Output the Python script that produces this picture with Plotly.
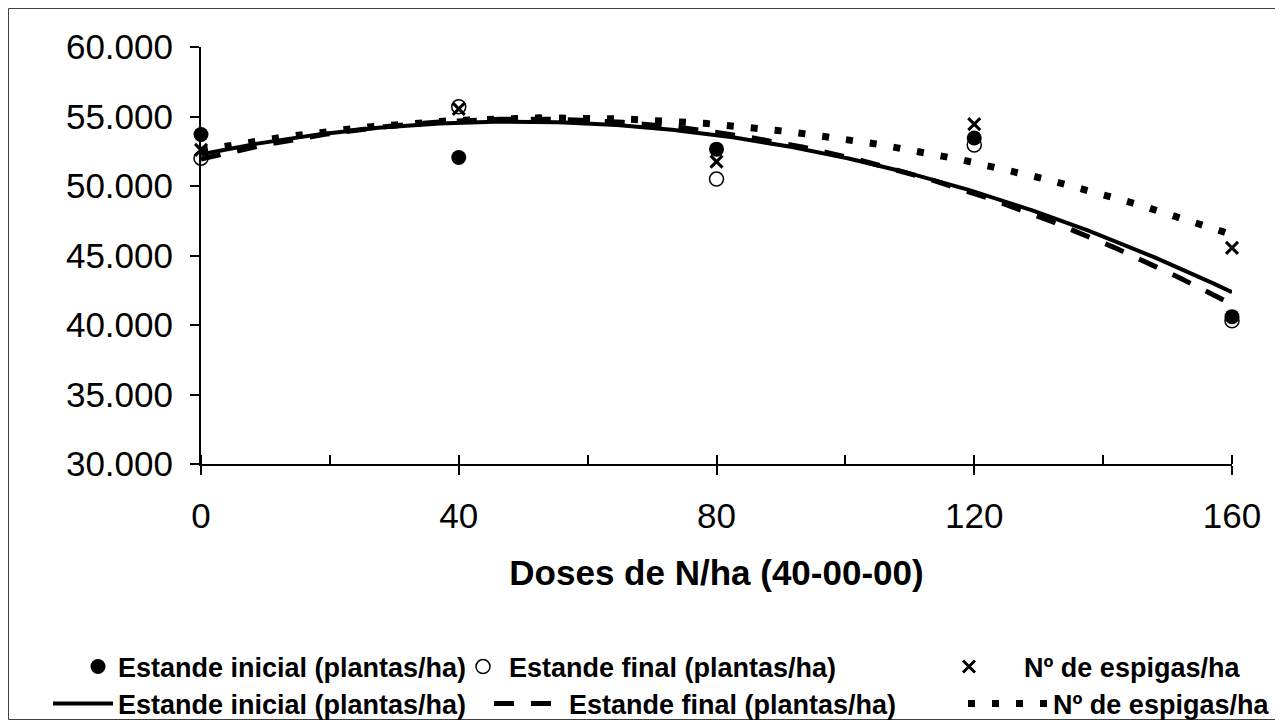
import numpy as np
import plotly.graph_objects as go

# ---- data ----
doses = [0, 40, 80, 120, 160]
estande_inicial = [53700, 52050, 52650, 53450, 40600]
estande_final = [52000, 55700, 50500, 52950, 40300]
espigas = [52600, 55550, 51750, 54450, 45550]
series_names = ["Estande inicial (plantas/ha)", "Estande final (plantas/ha)", "Nº de espigas/ha"]
x_ticks = [0, 40, 80, 120, 160]
y_ticks = [30000, 35000, 40000, 45000, 50000, 55000, 60000]
x_title = "Doses de N/ha (40-00-00)"

OFF = 8  # page body margin
W, H = 1283 - OFF, 726 - OFF
L, R, T, B = 201 - OFF, 1232 - OFF, 47 - OFF, 464 - OFF  # plot area in figure pixels
pw, ph = R - L, B - T


def px(xs):  # screen x -> paper
    return (xs - OFF - L) / pw


def py(ys):  # screen y -> paper
    return (B - (ys - OFF)) / ph


# polynomial (order 2) trendlines, as in the original spreadsheet chart
xfit = np.linspace(0, 160, 321)


def trend(vals):
    c = np.polyfit(doses, vals, 2)
    return np.polyval(c, xfit)


LEG_FONT = dict(family="Liberation Sans, Arial, sans-serif", size=27, color="black")
fig = go.Figure()

# trendlines
fig.add_trace(go.Scatter(x=xfit, y=trend(estande_inicial), mode="lines", name="<b>" + series_names[0] + "</b>",
                         line=dict(color="black", width=4), legend="legend4", cliponaxis=False))
fig.add_trace(go.Scatter(x=xfit, y=trend(estande_final), mode="lines", name="<b>" + series_names[1] + "</b>",
                         line=dict(color="black", width=5, dash="20px,17px"), legend="legend5", cliponaxis=False))
fig.add_trace(go.Scatter(x=xfit, y=trend(espigas), mode="lines", name="<b>" + series_names[2] + "</b>",
                         line=dict(color="black", width=7, dash="7px,17px"), legend="legend6", cliponaxis=False))

# observed points
fig.add_trace(go.Scatter(x=doses, y=estande_inicial, mode="markers", name="<b>" + series_names[0] + "</b>",
                         marker=dict(symbol="circle", size=15, color="black"), legend="legend", cliponaxis=False))
fig.add_trace(go.Scatter(x=doses, y=estande_final, mode="markers", name="<b>" + series_names[1] + "</b>",
                         marker=dict(symbol="circle-open", size=14, color="black", line=dict(width=1.5)),
                         legend="legend2", cliponaxis=False))
fig.add_trace(go.Scatter(x=doses, y=espigas, mode="markers", name="<b>" + series_names[2] + "</b>",
                         marker=dict(symbol="x-thin-open", size=12, color="black", line=dict(width=3, color="black")),
                         legend="legend3", cliponaxis=False))


def leg(text_x, text_y, itemwidth):
    return dict(x=px(text_x - itemwidth - 10), y=py(text_y), xanchor="left", yanchor="middle",
                orientation="h", itemwidth=itemwidth, font=LEG_FONT, bgcolor="rgba(0,0,0,0)",
                borderwidth=0, itemclick=False, itemdoubleclick=False)


fig.update_layout(
    width=W, height=H,
    margin=dict(l=L, r=W - R, t=T, b=H - B, autoexpand=False),
    paper_bgcolor="white", plot_bgcolor="white",
    separators=",.",
    font=dict(family="Liberation Sans, Arial, sans-serif", color="black"),
    showlegend=True,
    legend=leg(118, 667, 30),
    legend2=leg(509, 667, 42),
    legend3=leg(1024, 667, 100),
    legend4=leg(118, 704, 60),
    legend5=leg(569, 704, 70),
    legend6=leg(1053, 704, 80),
    xaxis=dict(range=[0, 160], tickvals=x_ticks, ticks="outside", ticklen=9, tickwidth=2,
               tickcolor="black", showline=True, linecolor="black", linewidth=2,
               showgrid=False, zeroline=False, tickfont=dict(size=35), ticklabelstandoff=11,
               minor=dict(dtick=20, tick0=0, ticks="inside", ticklen=9, tickwidth=2, tickcolor="black", showgrid=False),
               title=dict(text="<b>" + x_title + "</b>", font=dict(size=35), standoff=26)),
    yaxis=dict(range=[30000, 60000], tickvals=y_ticks, tickformat=",d", ticks="outside", ticklen=9,
               tickwidth=2, tickcolor="black", showline=True, linecolor="black", linewidth=2,
               showgrid=False, zeroline=False, tickfont=dict(size=35), ticklabelstandoff=10),
    shapes=[dict(type="rect", xref="paper", yref="paper",
                 x0=-(L - 0.5) / pw, x1=(1268.5 - L) / pw, y0=(B - 711.5) / ph, y1=(B - 0.5) / ph,
                 line=dict(color="#404040", width=1), fillcolor="rgba(0,0,0,0)", layer="above")],
)

fig.write_html("out.html")
